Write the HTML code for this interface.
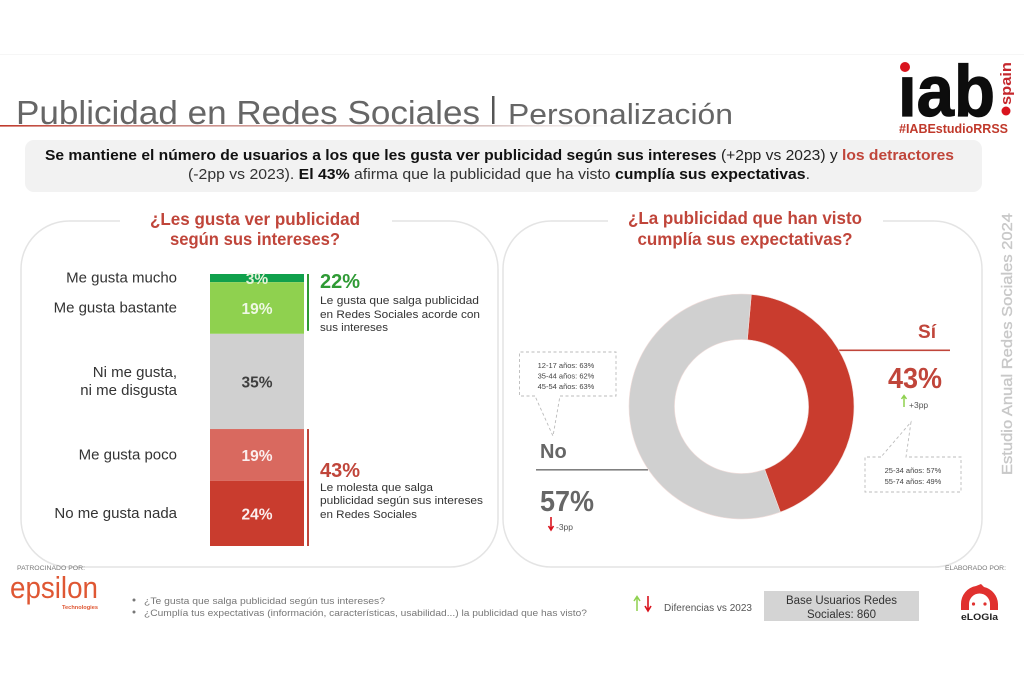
<!DOCTYPE html>
<html lang="es">
<head>
<meta charset="utf-8">
<title>Publicidad en Redes Sociales | Personalización</title>
<style>
html,body{margin:0;padding:0;background:#fff;width:1024px;height:681px;overflow:hidden}
svg{display:block;font-family:"Liberation Sans",sans-serif}
</style>
</head>
<body>
<svg id="slide" xmlns="http://www.w3.org/2000/svg" width="1024" height="681" viewBox="0 0 1024 681">
  <defs>
    <linearGradient id="rule" x1="0" x2="1" y1="0" y2="0">
      <stop offset="0" stop-color="#c0392b"/>
      <stop offset="0.2" stop-color="#c9837c"/>
      <stop offset="0.8" stop-color="#d8c4c2"/>
      <stop offset="1" stop-color="#ffffff"/>
    </linearGradient>
  </defs>
  <rect width="1024" height="681" fill="#fff"/>
  <rect x="0" y="54" width="1024" height="1" fill="#f6f6f6"/>

  <text x="16" y="124" font-size="33" fill="#666" textLength="464" lengthAdjust="spacingAndGlyphs">Publicidad en Redes Sociales</text>
  <rect x="492" y="96" width="2.5" height="28" fill="#555"/>
  <text x="508" y="124" font-size="29" fill="#666" textLength="225" lengthAdjust="spacingAndGlyphs">Personalización</text>
  <rect x="0" y="125" width="615" height="1.6" fill="url(#rule)"/>

  <g>
    <text x="898" y="116" font-size="72" font-weight="700" fill="#0d0d0d" stroke="#0d0d0d" stroke-width="1.2" textLength="97" lengthAdjust="spacingAndGlyphs">iab</text>
    <rect x="896" y="58" width="18" height="17" fill="#fff"/>
    <circle cx="905" cy="67" r="5" fill="#d9141e"/>
    <text transform="translate(1011,105) rotate(-90)" font-size="15" font-weight="700" fill="#c5282d" textLength="43" lengthAdjust="spacingAndGlyphs">spain</text>
    <circle cx="1006" cy="111" r="4.5" fill="#d9141e"/>
    <text x="899" y="133" font-size="13" font-weight="700" fill="#c0392b" textLength="109" lengthAdjust="spacingAndGlyphs">#IABEstudioRRSS</text>
  </g>

  <rect x="25" y="140" width="957" height="52" rx="9" fill="#f2f2f2"/>
  <text x="45" y="160" font-size="14.5" fill="#222" textLength="909" lengthAdjust="spacingAndGlyphs"><tspan font-weight="700" fill="#111">Se mantiene el número de usuarios a los que les gusta ver publicidad según sus intereses</tspan> (+2pp vs 2023) y <tspan font-weight="700" fill="#c0453a">los detractores</tspan></text>
  <text x="188" y="179" font-size="14.5" fill="#333" textLength="622" lengthAdjust="spacingAndGlyphs">(-2pp vs 2023). <tspan font-weight="700" fill="#111">El 43%</tspan> afirma que la publicidad que ha visto <tspan font-weight="700" fill="#111">cumplía sus expectativas</tspan>.</text>

  <g>
    <rect x="21" y="221" width="477" height="346" rx="48" fill="#fff" stroke="#e4e4e4" stroke-width="1.5"/>
    <rect x="120" y="215" width="272" height="12" fill="#fff"/>
    <text x="255" y="225" text-anchor="middle" font-size="17.5" font-weight="700" fill="#c0453a" textLength="210" lengthAdjust="spacingAndGlyphs">¿Les gusta ver publicidad</text>
    <text x="255" y="245" text-anchor="middle" font-size="17.5" font-weight="700" fill="#c0453a" textLength="170" lengthAdjust="spacingAndGlyphs">según sus intereses?</text>
    <g id="bar-chart"></g>
    <text x="320" y="304" font-size="11" fill="#333" textLength="159" lengthAdjust="spacingAndGlyphs">Le gusta que salga publicidad</text>
    <text x="320" y="318" font-size="11" fill="#333" textLength="160" lengthAdjust="spacingAndGlyphs">en Redes Sociales acorde con</text>
    <text x="320" y="331" font-size="11" fill="#333" textLength="68" lengthAdjust="spacingAndGlyphs">sus intereses</text>
    <text x="320" y="491" font-size="11" fill="#333" textLength="113" lengthAdjust="spacingAndGlyphs">Le molesta que salga</text>
    <text x="320" y="504" font-size="11" fill="#333" textLength="163" lengthAdjust="spacingAndGlyphs">publicidad según sus intereses</text>
    <text x="320" y="518" font-size="11" fill="#333" textLength="97" lengthAdjust="spacingAndGlyphs">en Redes Sociales</text>
  </g>

  <g>
    <rect x="503" y="221" width="479" height="346" rx="48" fill="#fff" stroke="#e4e4e4" stroke-width="1.5"/>
    <rect x="608" y="215" width="275" height="12" fill="#fff"/>
    <text x="745" y="224" text-anchor="middle" font-size="17.5" font-weight="700" fill="#c0453a" textLength="234" lengthAdjust="spacingAndGlyphs">¿La publicidad que han visto</text>
    <text x="745" y="245" text-anchor="middle" font-size="17.5" font-weight="700" fill="#c0453a" textLength="215" lengthAdjust="spacingAndGlyphs">cumplía sus expectativas?</text>

    <rect x="536" y="469" width="112" height="1.6" fill="#808080"/>
    <rect x="838" y="349.5" width="112" height="1.6" fill="#c0453a"/>
    <g id="donut-chart"></g>

    <path d="M904 407V396M901.5 399L904 395.5L906.5 399" fill="none" stroke="#8fd14f" stroke-width="1.5"/>
    <text x="909" y="408" font-size="8.5" fill="#555">+3pp</text>
    <path d="M551 517V529M548.5 526L551 530L553.5 526" fill="none" stroke="#d9141e" stroke-width="1.6"/>
    <text x="556" y="530" font-size="8.5" fill="#555">-3pp</text>

    <g fill="none" stroke="#bbb" stroke-width="0.9" stroke-dasharray="3 2.5">
      <path d="M535 396H519.5V352H616V396H560L553 436L535 396"/>
    </g>
    <text x="566" y="368" text-anchor="middle" font-size="7.5" fill="#444">12-17 años: 63%</text>
    <text x="566" y="378.5" text-anchor="middle" font-size="7.5" fill="#444">35-44 años: 62%</text>
    <text x="566" y="389" text-anchor="middle" font-size="7.5" fill="#444">45-54 años: 63%</text>

    <g fill="none" stroke="#bbb" stroke-width="0.9" stroke-dasharray="3 2.5">
      <path d="M881 457H865V492H961V457H906L911 422L881 457"/>
    </g>
    <text x="913" y="473" text-anchor="middle" font-size="7.5" fill="#444">25-34 años: 57%</text>
    <text x="913" y="484" text-anchor="middle" font-size="7.5" fill="#444">55-74 años: 49%</text>
  </g>

  <text transform="translate(1012,475) rotate(-90)" font-size="15" fill="#c8c8c8" stroke="#c8c8c8" stroke-width="0.35" textLength="262" lengthAdjust="spacingAndGlyphs">Estudio Anual Redes Sociales 2024</text>

  <rect x="80" y="566.5" width="40" height="1" fill="#e4e4e4"/>
  <text x="17" y="570" font-size="6.5" fill="#777" textLength="68" lengthAdjust="spacingAndGlyphs">PATROCINADO POR:</text>
  <text x="10" y="598" font-size="31" fill="#df5733" textLength="88" lengthAdjust="spacingAndGlyphs">epsilon</text>
  <text x="62" y="609" font-size="5.5" font-weight="700" fill="#df5733" textLength="36" lengthAdjust="spacingAndGlyphs">Technologies</text>

  <circle cx="134" cy="600" r="1.5" fill="#777"/>
  <circle cx="134" cy="612" r="1.5" fill="#777"/>
  <text x="144" y="604" font-size="9.5" fill="#777" textLength="241" lengthAdjust="spacingAndGlyphs">¿Te gusta que salga publicidad según tus intereses?</text>
  <text x="144" y="616" font-size="9.5" fill="#777" textLength="443" lengthAdjust="spacingAndGlyphs">¿Cumplía tus expectativas (información, características, usabilidad...) la publicidad que has visto?</text>

  <path d="M637 611V597M634 601L637 596.5L640 601" fill="none" stroke="#8fd14f" stroke-width="1.5"/>
  <path d="M648 596V610M645 606L648 611L651 606" fill="none" stroke="#d9141e" stroke-width="1.6"/>
  <text x="664" y="611" font-size="10" fill="#555" textLength="88" lengthAdjust="spacingAndGlyphs">Diferencias vs 2023</text>

  <rect x="764" y="591" width="155" height="30" fill="#d4d4d4"/>
  <text x="841.5" y="604" text-anchor="middle" font-size="11.5" fill="#333" textLength="111" lengthAdjust="spacingAndGlyphs">Base Usuarios Redes</text>
  <text x="841.5" y="618" text-anchor="middle" font-size="11.5" fill="#333" textLength="69" lengthAdjust="spacingAndGlyphs">Sociales: 860</text>

  <text x="945" y="570" font-size="6.5" fill="#777" textLength="61" lengthAdjust="spacingAndGlyphs">ELABORADO POR:</text>
  <g>
    <path d="M961 610V604A18 18 0 0 1 976 586L981 584L984 587A18 18 0 0 1 998 604V610H990V604A10.5 10.5 0 0 0 969 604V610Z" fill="#e0312f"/>
    <circle cx="973.5" cy="604" r="1.6" fill="#e0312f"/>
    <circle cx="985" cy="604" r="1.6" fill="#e0312f"/>
    <text x="961" y="620" font-size="9.5" font-weight="700" fill="#222" textLength="37" lengthAdjust="spacingAndGlyphs">eLOGIa</text>
  </g>
</svg>

<script>
// Stacked bar data
const barCategories = [["Me gusta mucho"], ["Me gusta bastante"], ["Ni me gusta,", "ni me disgusta"], ["Me gusta poco"], ["No me gusta nada"]];
const barValues = [3, 19, 35, 19, 24];
const barColors = ["#10a04c", "#8fd14f", "#d0d0d0", "#d9695f", "#c93c2e"];
const barLabelColors = ["#e6f3d8", "#eef8e4", "#3f3f3f", "#fbeeee", "#fbeeee"];
const barGroupNames = ["like", "dislike"];
const barGroupMembers = [[0, 1], [3, 4]];
const barGroupColors = ["#2f9a35", "#c0453a"];
// Donut data
const donutCategories = ["Sí", "No"];
const donutValues = [43, 57];
const donutColors = ["#c93c2e", "#d0d0d0"];
const donutLabelColors = ["#c0453a", "#666666"];

const NS = "http://www.w3.org/2000/svg";
function make(tag, parent, props, text) {
  const el = document.createElementNS(NS, tag);
  for (const k in props) el.setAttribute(k, props[k]);
  if (text !== undefined) el.textContent = text;
  parent.appendChild(el);
  return el;
}

// Bar axis functions
const barTop = 274, barBottom = 546, barLeft = 210, barRight = 304;
const barTotal = barValues.reduce((a, b) => a + b, 0);
const yScale = v => barTop + (v / barTotal) * (barBottom - barTop);

const barChart = document.getElementById("bar-chart");
let cumulative = 0;
const segStart = [], segEnd = [];
barValues.forEach((value, i) => {
  const y0 = yScale(cumulative), y1 = yScale(cumulative + value);
  segStart.push(y0);
  segEnd.push(y1);
  cumulative += value;

  const seg = make("rect", barChart, { x: barLeft, y: y0, width: barRight - barLeft, height: y1 - y0, fill: barColors[i] });
  
  
});
barValues.forEach((value, i) => {
  const mid = (segStart[i] + segEnd[i]) / 2;
  const valueLabel = make("text", barChart, { x: (barLeft + barRight) / 2, y: mid + 6, "text-anchor": "middle", "font-size": 15.5, "font-weight": 700, fill: barLabelColors[i] }, value + "%");
  
  

  const lines = barCategories[i];
  lines.forEach((line, j) => {
    const offset = (j - (lines.length - 1) / 2) * 18;
    const cat = make("text", barChart, { x: 177, y: mid + offset + 4.5, "text-anchor": "end", "font-size": 15, fill: "#333" }, line);
    
    
  });
});
barGroupMembers.forEach((members, g) => {
  const y0 = segStart[members[0]], y1 = segEnd[members[members.length - 1]];
  const bracket = make("rect", barChart, { x: 307, y: y0, width: 2, height: y1 - y0 - (g === 0 ? 3 : 0), fill: barGroupColors[g] });
  
  

  const total = members.reduce((s, m) => s + barValues[m], 0);
  const labelY = g === 0 ? y0 + 14 : y0 + 48;
  const totalLabel = make("text", barChart, { x: 320, y: labelY, "font-size": 20, "font-weight": 700, fill: barGroupColors[g] }, total + "%");
  
  
});

// Donut axis functions
const cx = 741.5, cy = 406.5, rOuter = 112.5, rInner = 67;
const startAngle = 5;
const donutTotal = donutValues.reduce((a, b) => a + b, 0);
const angleScale = v => startAngle + (v / donutTotal) * 360;
const polar = (r, deg) => {
  const t = (deg - 90) * Math.PI / 180;
  return [cx + r * Math.cos(t), cy + r * Math.sin(t)];
};
const donutChart = document.getElementById("donut-chart");
let donutCum = 0;
donutValues.forEach((value, i) => {
  const a0 = angleScale(donutCum), a1 = angleScale(donutCum + value);
  donutCum += value;
  const large = a1 - a0 > 180 ? 1 : 0;
  const p0 = polar(rOuter, a0), p1 = polar(rOuter, a1), p2 = polar(rInner, a1), p3 = polar(rInner, a0);
  const d = `M${p0[0]} ${p0[1]}A${rOuter} ${rOuter} 0 ${large} 1 ${p1[0]} ${p1[1]}L${p2[0]} ${p2[1]}A${rInner} ${rInner} 0 ${large} 0 ${p3[0]} ${p3[1]}Z`;
  const slice = make("path", donutChart, { d: d, fill: donutColors[i], stroke: "#f3dedb", "stroke-width": 0.6 });
  
  
});
donutValues.forEach((value, i) => {
  const isSi = i === 0;
  const name = make("text", donutChart, { x: isSi ? 936 : 540, y: isSi ? 338 : 458, "text-anchor": isSi ? "end" : "start", "font-size": isSi ? 19 : 20, "font-weight": 700, fill: donutLabelColors[i] }, donutCategories[i]);
  
  
  const pct = make("text", donutChart, { x: isSi ? 888 : 540, y: isSi ? 388 : 511, "font-size": 29, "font-weight": 700, fill: donutLabelColors[i], textLength: 54, lengthAdjust: "spacingAndGlyphs" }, value + "%");
  
  
});
</script>
</body>
</html>
